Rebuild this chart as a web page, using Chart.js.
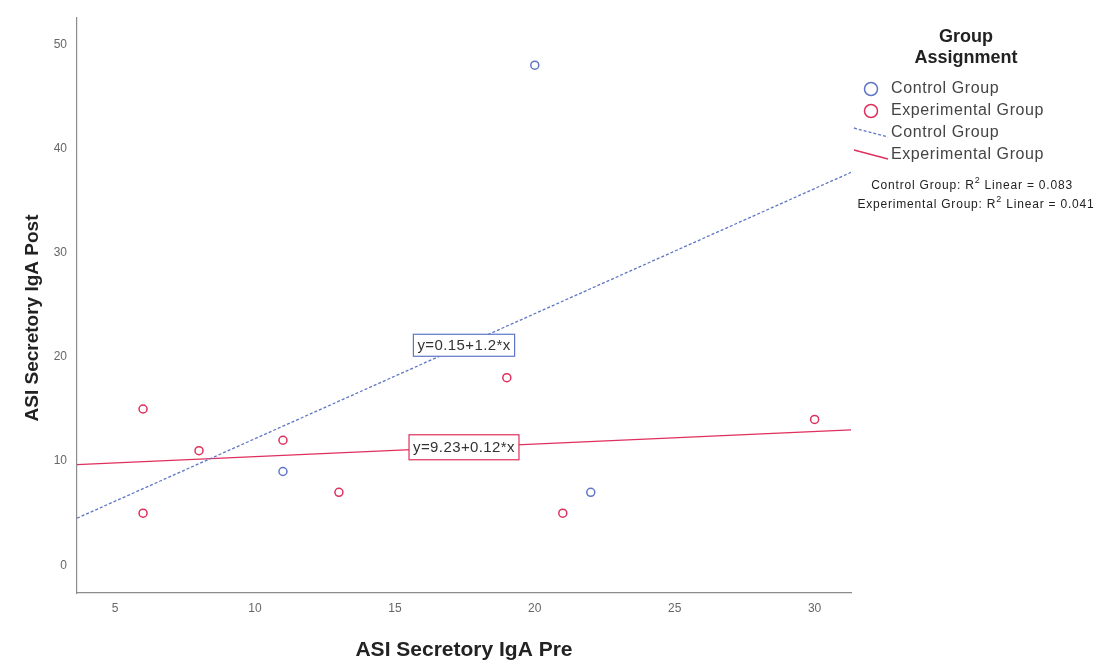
<!DOCTYPE html>
<html>
<head>
<meta charset="utf-8">
<script src="https://cdn.jsdelivr.net/npm/chart.js@4.4.1/dist/chart.umd.min.js"></script>
<style>
  body { margin: 0; background: #fff; }
  #wrap { width: 1106px; height: 664px; position: relative; }
</style>
</head>
<body>
<div id="wrap"><canvas id="myChart"></canvas></div>
<script>
/* DATA */
const groupNames = ["Control Group", "Experimental Group"];
const controlPre = [11, 20, 22];
const controlPost = [9, 48, 7];
const expPre = [6, 6, 8, 11, 13, 19, 21, 30];
const expPost = [15, 5, 11, 12, 7, 18, 5, 14];
// intercept, slope of each linear fit
const controlFit = [0.15, 1.2];
const expFit = [9.23, 0.12];
const r2Values = ["0.083", "0.041"];
const xTicks = [5, 10, 15, 20, 25, 30];
const yTicks = [0, 10, 20, 30, 40, 50];
const xRange = [3.64, 31.3];
const yRange = [-2.66, 52.6];

const blue = "#5f76c6";
const red = "#df2f5c";

function toPoints(xs, ys) {
  return xs.map((x, i) => ({ x: x, y: ys[i] }));
}

function fitLine(fit) {
  return xRange.map(x => ({ x: x, y: fit[0] + fit[1] * x }));
}

function fitText(fit) {
  return "y=" + fit[0].toFixed(2) + "+" + fit[1] + "*x";
}

// labels of the fit lines, in the middle of the x range
const fitLabels = {
  id: "fitLabels",
  afterDatasetsDraw(chart) {
    const ctx = chart.ctx;
    const xs = chart.scales.x, ys = chart.scales.y;
    const xm = (xRange[0] + xRange[1]) / 2;
    [[controlFit, blue, 22], [expFit, red, 25]].forEach(([fit, color, h]) => {
      const px = xs.getPixelForValue(xm);
      const py = ys.getPixelForValue(fit[0] + fit[1] * xm);
      ctx.save();
      ctx.font = "15px Arial, 'Liberation Sans'";
      ctx.letterSpacing = "0.4px";
      const txt = fitText(fit);
      const w = ctx.measureText(txt).width + 8;
      ctx.fillStyle = "#fff";
      ctx.fillRect(px - w / 2, py - h / 2, w, h);
      ctx.strokeStyle = color;
      ctx.lineWidth = 1.2;
      ctx.strokeRect(px - w / 2, py - h / 2, w, h);
      ctx.fillStyle = "#333";
      ctx.textAlign = "center";
      ctx.textBaseline = "middle";
      ctx.fillText(txt, px, py + 1);
      ctx.restore();
    });
  }
};

// axis titles, legend and R2 notes
const extras = {
  id: "extras",
  afterDraw(chart) {
    const ctx = chart.ctx;
    ctx.save();
    ctx.fillStyle = "#222";
    ctx.textAlign = "center";
    ctx.textBaseline = "middle";
    ctx.font = "bold 21px Arial, 'Liberation Sans'";
    ctx.fillText("ASI Secretory IgA Pre", 464, 650);
    ctx.save();
    ctx.translate(33, 318);
    ctx.rotate(-Math.PI / 2);
    ctx.font = "bold 19px Arial, 'Liberation Sans'";
    ctx.fillText("ASI Secretory IgA Post", 0, 0);
    ctx.restore();

    // legend
    ctx.font = "bold 18px Arial, 'Liberation Sans'";
    ctx.fillText("Group", 966, 37);
    ctx.fillText("Assignment", 966, 58);

    ctx.font = "16px Arial, 'Liberation Sans'";
    ctx.letterSpacing = "0.6px";
    ctx.textAlign = "left";
    const colors = [blue, red];
    colors.forEach((c, i) => {
      const y = 89 + i * 22;
      ctx.beginPath();
      ctx.arc(871, y, 6.5, 0, Math.PI * 2);
      ctx.strokeStyle = c;
      ctx.lineWidth = 1.5;
      ctx.stroke();
      ctx.fillStyle = "#444";
      ctx.fillText(groupNames[i], 891, y);
    });
    colors.forEach((c, i) => {
      const y = 133 + i * 22;
      ctx.beginPath();
      ctx.moveTo(854, y - 5);
      ctx.lineTo(888, y + 4);
      ctx.strokeStyle = c;
      ctx.lineWidth = 1.3;
      if (i === 0) ctx.setLineDash([3, 2]);
      ctx.stroke();
      ctx.setLineDash([]);
      ctx.fillStyle = "#444";
      ctx.fillText(groupNames[i], 891, y);
    });

    // R2 lines
    ctx.fillStyle = "#222";
    ctx.letterSpacing = "0.8px";
    [[972, 186], [976, 205]].forEach(([cx, y], i) => {
      const a = groupNames[i] + ": R";
      const b = " Linear = " + r2Values[i];
      ctx.font = "12px Arial, 'Liberation Sans'";
      const wa = ctx.measureText(a).width;
      const wb = ctx.measureText(b).width;
      ctx.font = "9px Arial, 'Liberation Sans'";
      const ws = ctx.measureText("2").width;
      let x = cx - (wa + ws + wb) / 2;
      ctx.font = "12px Arial, 'Liberation Sans'";
      ctx.fillText(a, x, y);
      ctx.font = "9px Arial, 'Liberation Sans'";
      ctx.fillText("2", x + wa, y - 5);
      ctx.font = "12px Arial, 'Liberation Sans'";
      ctx.fillText(b, x + wa + ws, y);
    });
    ctx.restore();
  }
};

const chartDOM = document.getElementById("myChart");
const grafico = new Chart(chartDOM, {
  type: "scatter",
  data: {
    datasets: [
      {
        label: groupNames[0],
        data: toPoints(controlPre, controlPost),
        borderColor: blue,
        backgroundColor: "#fff",
        pointRadius: 4,
        borderWidth: 1.5
      },
      {
        label: groupNames[1],
        data: toPoints(expPre, expPost),
        borderColor: red,
        backgroundColor: "#fff",
        pointRadius: 4,
        borderWidth: 1.5
      },
      {
        label: groupNames[0] + " fit",
        data: fitLine(controlFit),
        showLine: true,
        borderColor: blue,
        borderWidth: 1.3,
        borderDash: [3, 2],
        pointRadius: 0
      },
      {
        label: groupNames[1] + " fit",
        data: fitLine(expFit),
        showLine: true,
        borderColor: red,
        borderWidth: 1.3,
        pointRadius: 0
      }
    ]
  },
  options: {
    responsive: true,
    maintainAspectRatio: false,
    animation: false,
    layout: { padding: { top: 16, right: 255, bottom: 0, left: 0 } },
    plugins: { legend: { display: false }, tooltip: { enabled: false } },
    scales: {
      x: {
        type: "linear",
        min: xRange[0],
        max: xRange[1],
        grid: { display: false, drawTicks: false },
        border: { display: true, color: "#8c8c8c", width: 1.2 },
        ticks: { color: "#666", font: { size: 12, family: "Arial" }, padding: 8 },
        afterBuildTicks: s => { s.ticks = xTicks.map(v => ({ value: v })); },
        afterFit: s => { s.height = 71; }
      },
      y: {
        type: "linear",
        min: yRange[0],
        max: yRange[1],
        grid: { display: false, drawTicks: false },
        border: { display: true, color: "#8c8c8c", width: 1.2 },
        ticks: { color: "#666", font: { size: 12, family: "Arial" }, padding: 10 },
        afterBuildTicks: s => { s.ticks = yTicks.map(v => ({ value: v })); },
        afterFit: s => { s.width = 77; }
      }
    }
  },
  plugins: [fitLabels, extras]
});
</script>
</body>
</html>
